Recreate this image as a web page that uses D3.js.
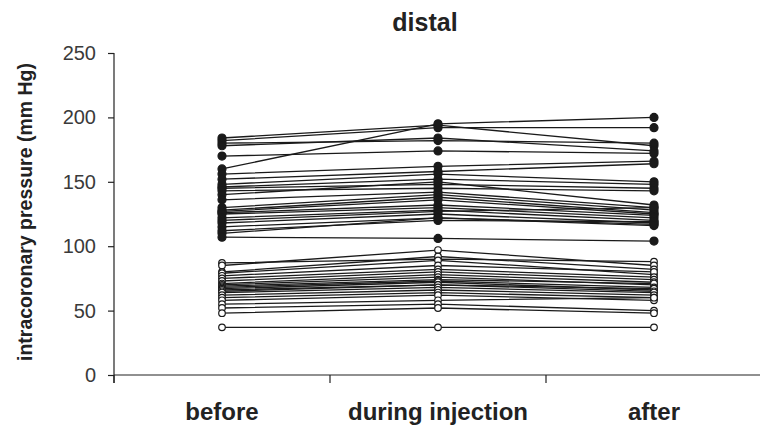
<!DOCTYPE html>
<html>
<head>
<meta charset="utf-8">
<script src="https://cdn.jsdelivr.net/npm/d3@7"></script>
<style>
  body { margin: 0; background: #fff; }
  .tick text { font-family: "Liberation Sans", Arial, sans-serif; font-size: 20px; fill: #3a3a3a; }
  .cat { font-family: "Liberation Sans Narrow", "Liberation Sans", Arial, sans-serif; font-weight: bold; font-size: 24px; fill: #222; }
</style>
</head>
<body>
<svg id="chart" width="760" height="428"></svg>
<script>
var categories = ["before", "during injection", "after"];
var yTicks = [0, 50, 100, 150, 200, 250];

// filled dots (upper group)
var closedBefore = [184, 182, 180, 178, 170, 160, 156, 152, 148, 146, 145, 143, 140, 136, 130, 128, 127, 126, 125, 122, 120, 118, 115, 112, 110, 107];
var closedDuring = [194, 192, 182, 184, 174, 195, 162, 158, 156, 152, 148, 145, 150, 142, 140, 138, 136, 132, 130, 128, 127, 125, 122, 120, 122, 106];
var closedAfter  = [178, 192, 180, 174, 172, 200, 166, 164, 150, 148, 145, 143, 132, 130, 128, 126, 125, 124, 122, 120, 130, 118, 116, 119, 117, 104];

// open dots (lower group)
var openBefore = [87, 85, 80, 79, 77, 75, 73, 71, 70, 69, 68, 67, 66, 65, 64, 62, 60, 58, 55, 52, 48, 37];
var openDuring = [90, 97, 92, 89, 85, 82, 80, 78, 76, 74, 73, 72, 70, 70, 68, 66, 64, 62, 58, 55, 52, 37];
var openAfter  = [88, 85, 82, 78, 80, 76, 74, 72, 70, 71, 68, 66, 67, 65, 64, 62, 60, 58, 60, 50, 48, 37];

var svg = d3.select("#chart");

var margin = { top: 53, left: 114 },
    plotH = 322,
    plotW = 648;

var x = d3.scaleBand()
    .domain(categories)
    .range([margin.left, margin.left + plotW]);

var y = d3.scaleLinear()
    .domain([0, 250])
    .range([margin.top + plotH, margin.top]);

function zip(a, b, c) {
  return a.map(function(d, i) { return [d, b[i], c[i]]; });
}
var closedSeries = zip(closedBefore, closedDuring, closedAfter);
var openSeries = zip(openBefore, openDuring, openAfter);

// y axis
var yAxis = svg.append("g")
    .attr("transform", "translate(" + margin.left + ",0)")
    .call(d3.axisLeft(y).tickValues(yTicks).tickSize(6).tickPadding(12));
yAxis.select(".domain").attr("d", "M0," + y(250) + "V" + (y(0) + 8));
yAxis.selectAll("line, path").attr("stroke", "#222").attr("stroke-width", 1.2);

// x axis with ticks between bands
var xAxis = svg.append("g")
    .attr("transform", "translate(0," + y(0) + ")");
xAxis.append("line")
    .attr("x1", margin.left).attr("x2", margin.left + plotW)
    .attr("stroke", "#222").attr("stroke-width", 1.2);
xAxis.selectAll(".xt")
  .data(categories)
  .enter().append("line")
    .attr("class", "xt")
    .attr("x1", function(d) { return x(d); })
    .attr("x2", function(d) { return x(d); })
    .attr("y1", 0).attr("y2", 8)
    .attr("stroke", "#222").attr("stroke-width", 1.2);
xAxis.selectAll(".cat")
  .data(categories)
  .enter().append("text")
    .attr("class", "cat")
    .attr("x", function(d) { return x(d) + x.bandwidth() / 2; })
    .attr("y", 45)
    .attr("text-anchor", "middle")
    .text(function(d) { return d; });

// lines
var line = d3.line()
    .x(function(d, i) { return x(categories[i]) + x.bandwidth() / 2; })
    .y(function(d) { return y(d); });

function drawGroup(data, filled) {
  var g = svg.append("g");
  g.selectAll("path")
    .data(data)
    .enter().append("path")
      .attr("d", line)
      .attr("fill", "none")
      .attr("stroke", "#1a1a1a")
      .attr("stroke-width", 1.3);
  data.forEach(function(s) {
    g.selectAll(null)
      .data(s)
      .enter().append("circle")
        .attr("cx", function(d, i) { return x(categories[i]) + x.bandwidth() / 2; })
        .attr("cy", function(d) { return y(d); })
        .attr("r", filled ? 4 : 3.3)
        .attr("fill", filled ? "#1a1a1a" : "#fff")
        .attr("stroke", "#1a1a1a")
        .attr("stroke-width", 1.2);
  });
}
drawGroup(openSeries, false);
drawGroup(closedSeries, true);

// title
svg.append("text")
    .attr("x", 425)
    .attr("y", 31)
    .attr("text-anchor", "middle")
    .style("font-family", "'Liberation Sans', Arial, sans-serif")
    .style("font-weight", "bold")
    .style("font-size", "25px")
    .style("fill", "#222")
    .text("distal");

// y title
svg.append("text")
    .attr("transform", "translate(32," + (y(125) - 2) + ") rotate(-90)")
    .attr("text-anchor", "middle")
    .style("font-family", "'Liberation Sans', Arial, sans-serif")
    .style("font-weight", "bold")
    .style("font-size", "19.5px")
    .style("fill", "#222")
    .text("intracoronary pressure (mm Hg)");
</script>
</body>
</html>
